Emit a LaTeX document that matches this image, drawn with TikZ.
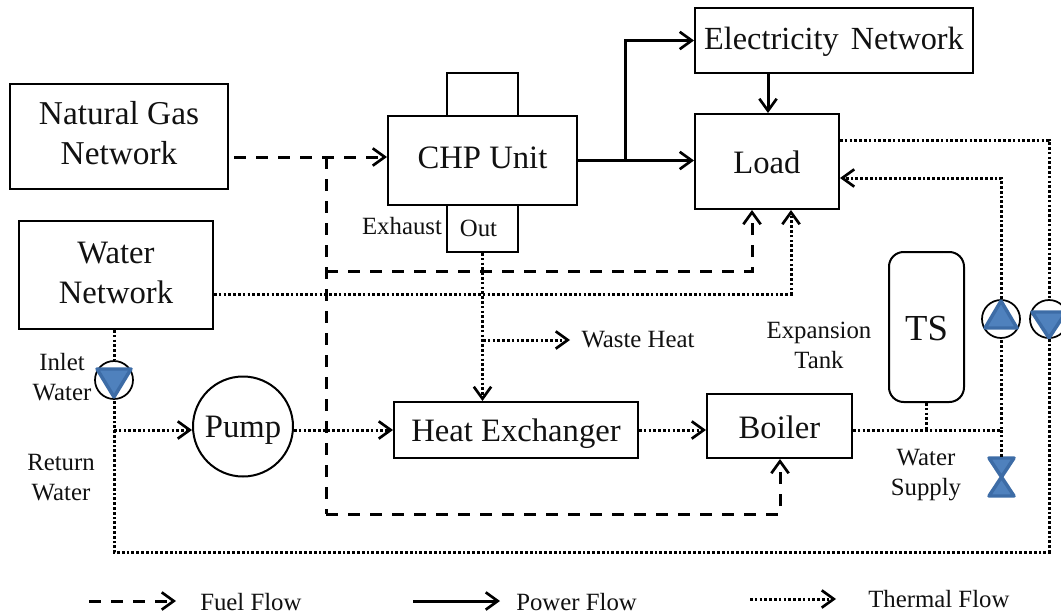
\documentclass[tikz,border=0pt]{standalone}
\usepackage{fontspec}
\setmainfont{Liberation Serif}
\usetikzlibrary{arrows.meta}
\definecolor{pumpfill}{HTML}{4F81BD}
\definecolor{pumpline}{HTML}{3D6CA6}
\definecolor{ink}{HTML}{111111}
\newcommand{\upby}[2]{\raisebox{#1}[0pt][0pt]{#2}}
\newcommand{\upbytwo}[3]{\raisebox{#1}{\begin{tabular}{@{}c@{}}#2\\#3\end{tabular}}}
\tikzset{
  box/.style={draw=black,line width=1.5pt,fill=white,inner sep=0pt,align=center,text=ink,font=\fontsize{24.5}{30}\selectfont},
  lbl/.style={inner sep=0pt,align=center,text=ink,font=\fontsize{18.6}{22.5}\selectfont},
  pumpc/.style={circle,draw=black,line width=1.3pt,fill=white,minimum size=38*0.75pt,inner sep=0pt},
  tri/.style={fill=pumpfill,draw=pumpline,line width=2.6pt,line join=round},
  tip/.style={-{Straight Barb[length=9pt,width=13pt,line width=2pt]}},
  fuel/.style={line width=2.25pt,dash pattern=on 9pt off 7.5pt},
  power/.style={line width=2.25pt},
  thermal/.style={line width=2.25pt,dash pattern=on 2pt off 1.6pt},
}
\begin{document}
\begin{tikzpicture}[x=0.75pt,y=-0.75pt]
\clip (0,0) rectangle (1061,614);
\fill[white] (0,0) rectangle (1061,614);
% boxes
\node[box,minimum width=218*0.75pt,minimum height=105*0.75pt,font=\fontsize{25}{30}\selectfont] (ng) at (119,136.5) {\upbytwo{3pt}{Natural Gas}{Network}};
\node[box,minimum width=194*0.75pt,minimum height=108*0.75pt] (wn) at (116,275) {\upbytwo{2pt}{Water}{Network}};
\node[box,minimum width=71*0.75pt,minimum height=43*0.75pt] (top) at (482.5,94.5) {};
\node[box,minimum width=71*0.75pt,minimum height=47*0.75pt,font=\fontsize{18.6}{22.5}\selectfont] (out) at (482.5,228.5) {\hspace*{-6pt}Out};
\node[box,minimum width=189*0.75pt,minimum height=89*0.75pt] (chp) at (482.5,160.5) {\upby{-6pt}{CHP Unit}};
\node[box,minimum width=278*0.75pt,minimum height=65*0.75pt,font=\fontsize{24.2}{30}\selectfont] (en) at (834,40.5) {\upby{-7.1pt}{Electricity\hspace{0.13em} Network}};
\node[box,minimum width=144*0.75pt,minimum height=95*0.75pt] (load) at (767,161.5) {\upby{-9pt}{Load}};
\node[box,rounded corners=11pt,minimum width=75*0.75pt,minimum height=150*0.75pt,font=\fontsize{27.5}{30}\selectfont] (ts) at (926.5,327) {\upby{-10pt}{TS}};
\node[box,circle,minimum size=100*0.75pt] (pump) at (243,426.5) {\upby{-8.6pt}{Pump}};
\node[box,minimum width=244*0.75pt,minimum height=56*0.75pt] (he) at (516,430) {\upby{-8.6pt}{Heat Exchanger}};
\node[box,minimum width=145*0.75pt,minimum height=64*0.75pt] (boiler) at (779.5,426) {\upby{-9pt}{Boiler}};
% pumps and valve
\node[pumpc] (pin) at (114,380) {};
\node[pumpc] (pup) at (1001,319) {};
\node[pumpc] (pdn) at (1049,319) {};
\draw[tri] (97,369) -- (131,369) -- (114,397) -- cycle;
\draw[tri] (1001,301) -- (1017,328) -- (985,328) -- cycle;
\draw[tri] (1032,312) -- (1066,312) -- (1049,338) -- cycle;
\coordinate (valve) at (1001,458);
\draw[tri] (989,458) -- (1014,458) -- (989,496) -- (1014,496) -- cycle;
% labels
\node[lbl] (exh) at (402,226) {Exhaust};
\node[lbl] (waste) at (638,340) {Waste Heat};
\node[lbl] (exp) at (819,345) {Expansion\\Tank};
\node[lbl] (sup) at (926,475) {Water\\Supply};
\node[lbl] (inl) at (62,377) {Inlet\\Water};
\node[lbl] (ret) at (61,478) {Return\\Water};
% fuel
\coordinate (fs) at (234,157);
\coordinate (fj) at (326,157);
\coordinate (fm) at (326,271);
\coordinate (fb) at (326,514);
\coordinate (lf) at (752,271);
\coordinate (bf) at (780,514);
\draw[fuel,tip] (fs) -- (fs -| chp.west);
\draw[fuel] (fj) -- (fb);
\draw[fuel,tip] (fb) -- (bf) -- (bf |- boiler.south);
\draw[fuel,tip] (fm) -- (lf) -- (lf |- load.south);
% power
\coordinate (pj) at (625,160.5);
\draw[power,tip] (chp.east) -- (chp.east -| load.west);
\draw[power,tip] (pj) |- (en.west);
\draw[power,tip] (en.south -| 768,0) -- (load.north -| 768,0);
% thermal
\coordinate (wr) at (791,294);
\draw[thermal,tip] (wn.east |- wr) -- (wr) -- (wr |- load.south);
\draw[thermal] (wn.south -| pin) -- (pin.north);
\coordinate (rc) at (114,552);
\coordinate (rr) at (1049,552);
\draw[thermal] (pdn.south) -- (rr) -- (rc) -- (pin.south);
\coordinate (lr) at (1049,140);
\draw[thermal] (lr -| load.east) -- (lr) -- (pdn.north);
\coordinate (inj) at (114,430);
\draw[thermal,tip] (inj) -- (inj -| pump.west);
\draw[thermal,tip] (pump.east |- he.west) -- (he.west);
\coordinate (oj) at (483,340);
\draw[thermal,tip] (out.south) -- (out.south |- he.north);
\draw[thermal,tip] (oj) -- (570,340) coordinate (we);
\draw[thermal,tip] (he.east) -- (he.east -| boiler.west);
\coordinate (bj) at (1001,430);
\draw[thermal] (boiler.east |- bj) -- (bj) -- (pup.south);
\draw[thermal] (bj) -- (valve);
\draw[thermal] (ts.south) -- (ts.south |- bj);
\coordinate (lt) at (1001,178);
\draw[thermal,tip] (pup.north) -- (lt) -- (lt -| load.east);
% legend
\coordinate (l1a) at (89,601); \coordinate (l1b) at (176,601);
\coordinate (l2a) at (413,601); \coordinate (l2b) at (500,601);
\coordinate (l3a) at (750,599); \coordinate (l3b) at (836,599);
\draw[fuel,tip] (l1a) -- (l1b);
\draw[power,tip] (l2a) -- (l2b);
\draw[thermal,tip] (l3a) -- (l3b);
\node[lbl,anchor=west] (t1) at (200,602) {Fuel Flow};
\node[lbl,anchor=west] (t2) at (516,602) {Power Flow};
\node[lbl,anchor=west] (t3) at (868,599) {Thermal Flow};
\end{tikzpicture}
\end{document}
